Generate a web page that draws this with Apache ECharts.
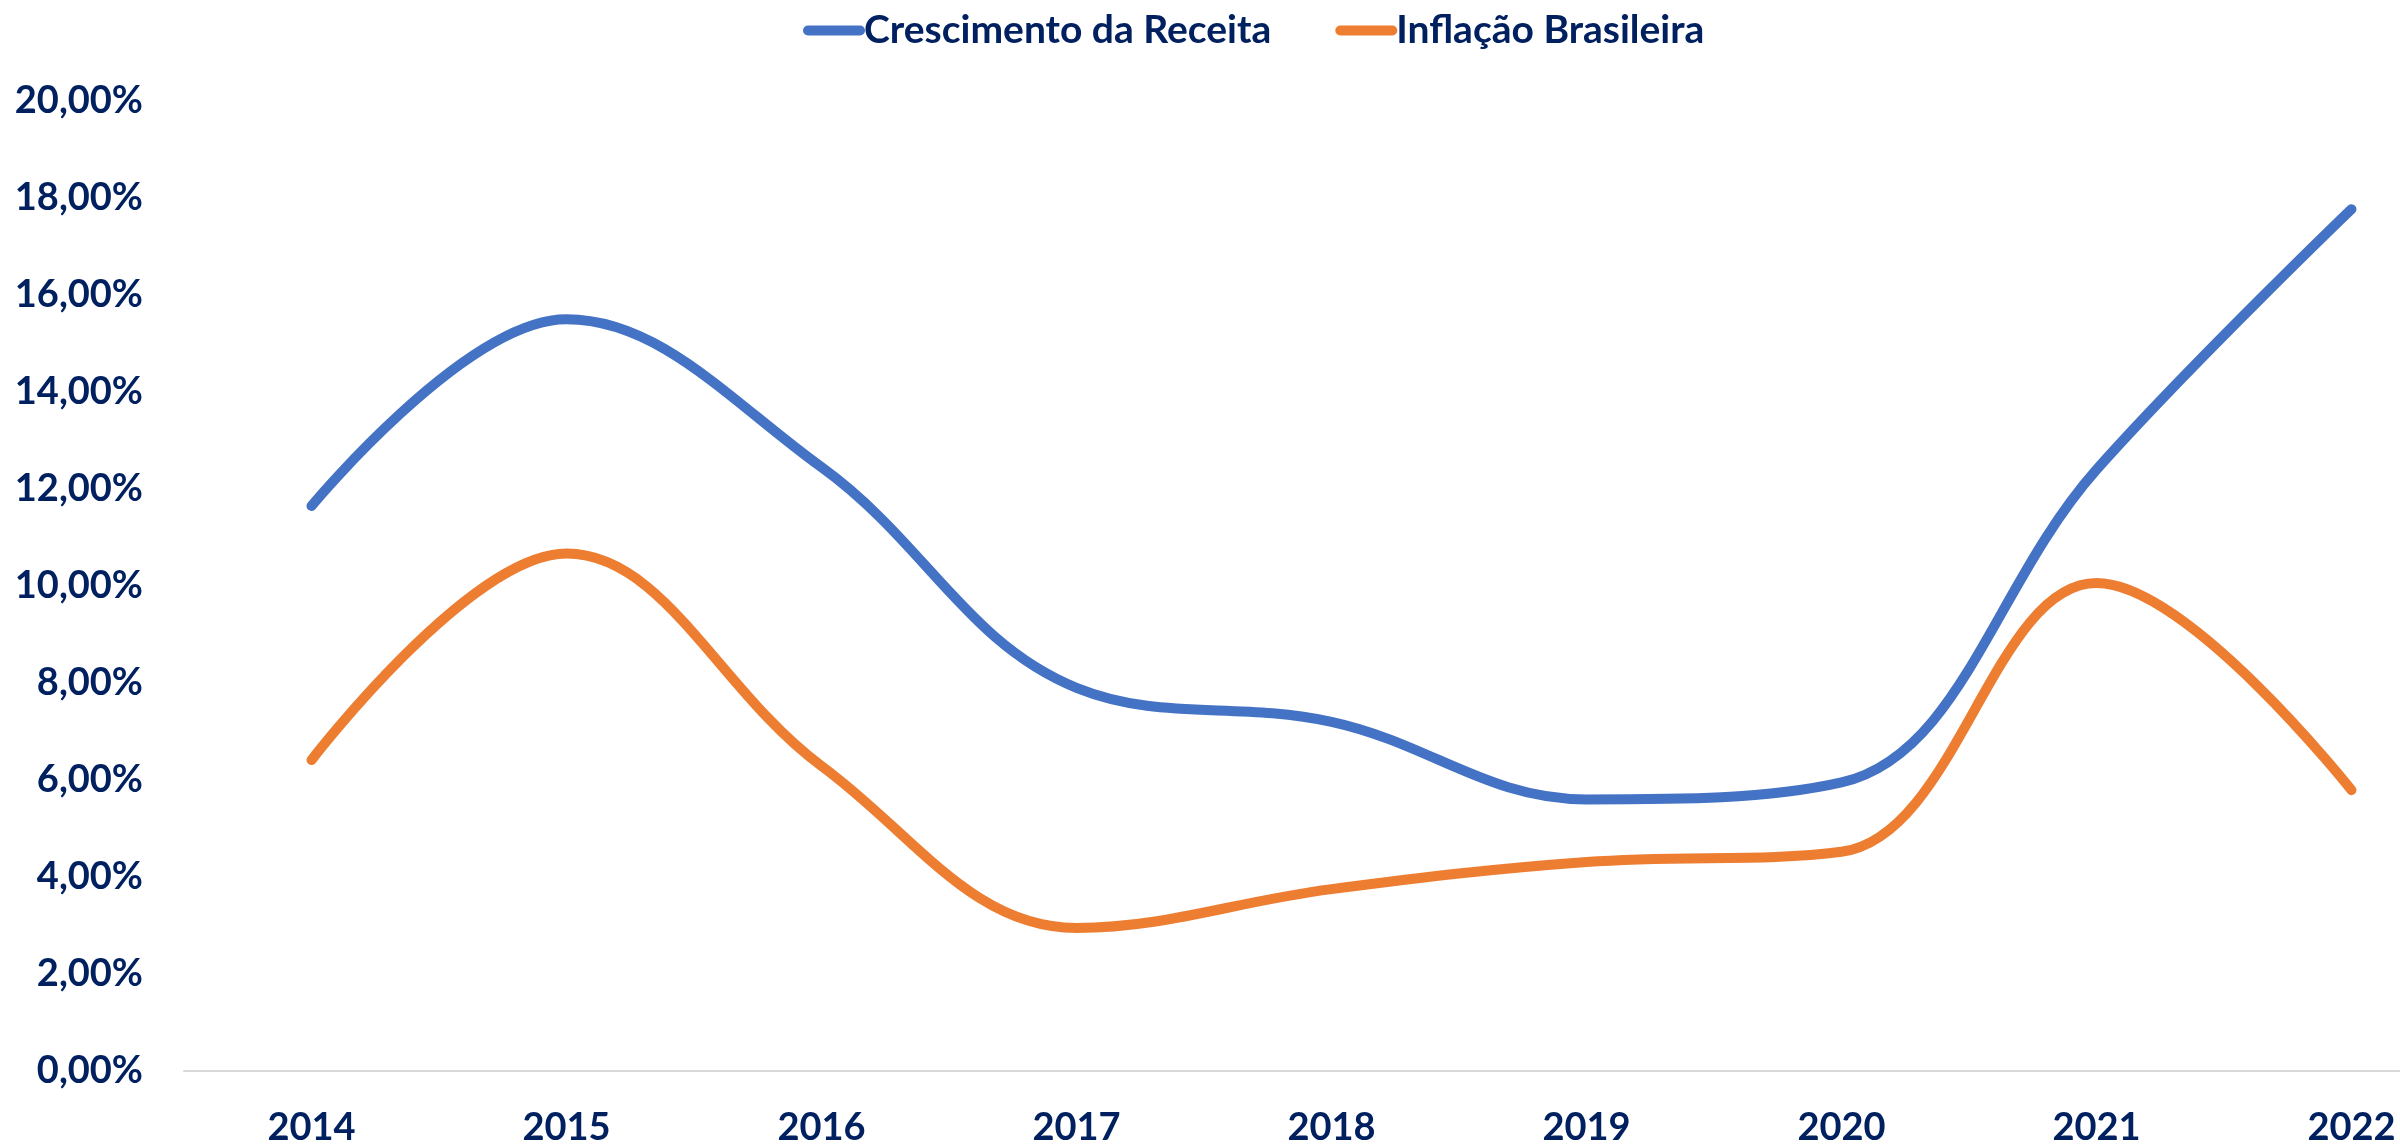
<!DOCTYPE html>
<html>
<head>
<meta charset="utf-8">
<script src="https://cdn.jsdelivr.net/npm/echarts@6/dist/echarts.min.js"></script>
<style>
html,body{margin:0;padding:0;background:#fff;}
#c{width:2400px;height:1144px;}
</style>
</head>
<body>
<div id="c"></div>
<script>
const categories = ['2014','2015','2016','2017','2018','2019','2020','2021','2022'];
const crescimentoReceita = [11.65, 15.5, 12.45, 7.9, 7.2, 5.6, 5.95, 12.4, 17.77];
const inflacaoBrasileira = [6.41, 10.67, 6.29, 2.95, 3.75, 4.31, 4.52, 10.06, 5.79];
const seriesNames = ['Crescimento da Receita', 'Inflação Brasileira'];

const textColor = '#002060';
const fontFamily = 'Lato, "Open Sans", sans-serif';
const capsule = 'path://M5,0 L57,0 A5,5 0 0 1 57,10 L5,10 A5,5 0 0 1 5,0 Z';

const chart = echarts.init(document.getElementById('c'));
chart.setOption({
  animation: false,
  backgroundColor: '#ffffff',
  legend: {
    left: 798,
    top: 6,
    itemWidth: 62,
    itemHeight: 10,
    itemGap: 64,
    icon: capsule,
    textStyle: { color: textColor, fontFamily: fontFamily, fontWeight: 'bold', fontSize: 39, padding: [0,0,0,-6] },
    data: seriesNames
  },
  grid: { left: 184, top: 101, width: 2295, bottom: 73, containLabel: false, outerBoundsMode: 'none' },
  xAxis: {
    type: 'category',
    data: categories,
    boundaryGap: true,
    axisLine: { show: true, lineStyle: { color: '#D9D9D9', width: 2 } },
    axisTick: { show: false },
    axisLabel: { color: textColor, fontFamily: fontFamily, fontWeight: 'bold', fontSize: 38, margin: 38 }
  },
  yAxis: {
    type: 'value',
    min: 0, max: 20, interval: 2,
    axisLine: { show: false },
    axisTick: { show: false },
    splitLine: { show: false },
    axisLabel: {
      color: textColor, fontFamily: fontFamily, fontWeight: 'bold', fontSize: 38, margin: 41,
      formatter: v => v.toFixed(2).replace('.', ',') + '%'
    }
  },
  series: [
    {
      name: seriesNames[0], type: 'line', data: crescimentoReceita, smooth: 0.38,
      showSymbol: false, color: '#4472C4',
      lineStyle: { width: 10, color: '#4472C4', cap: 'round', join: 'round' }
    },
    {
      name: seriesNames[1], type: 'line', data: inflacaoBrasileira, smooth: 0.38,
      showSymbol: false, color: '#ED7D31',
      lineStyle: { width: 10, color: '#ED7D31', cap: 'round', join: 'round' }
    }
  ]
});
</script>
</body>
</html>
